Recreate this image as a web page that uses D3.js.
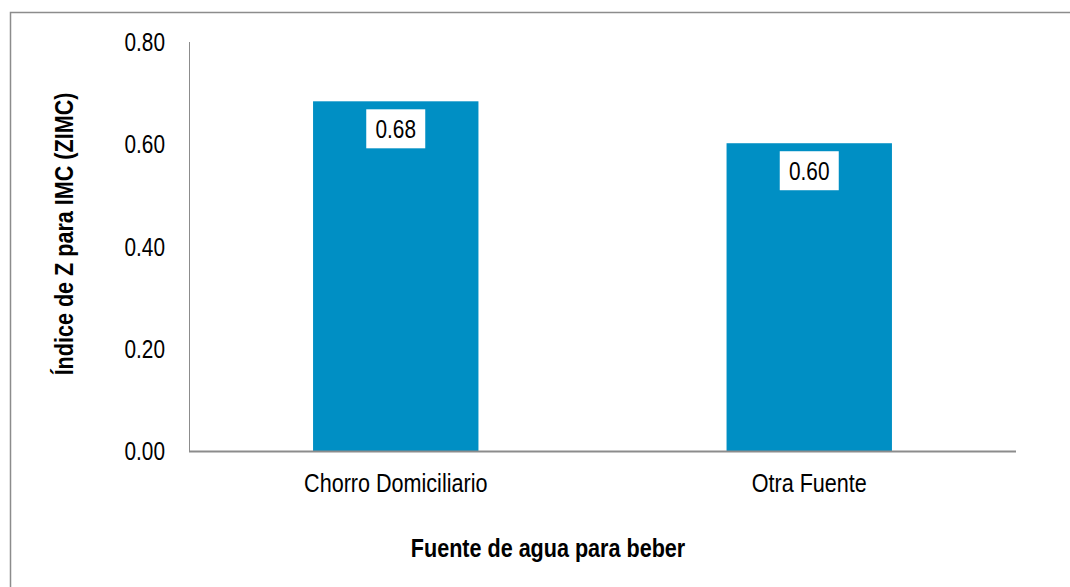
<!DOCTYPE html>
<html>
<head>
<meta charset="utf-8">
<script src="https://cdn.jsdelivr.net/npm/d3@7"></script>
<style>
  body { margin: 0; background: #fff; }
  svg { display: block; }
  text { font-family: "Liberation Sans", Arial, sans-serif; fill: #000; }
</style>
</head>
<body>
<svg width="1070" height="587"></svg>
<script>
// chart data
var categories = ["Chorro Domiciliario", "Otra Fuente"];
var values = [0.684, 0.602];
var valueLabels = ["0.68", "0.60"];
var yTicks = [0, 0.2, 0.4, 0.6, 0.8];

var svg = d3.select("svg");
var narrow = 0.8;   // squeeze text horizontally to look like Arial Narrow
var narrowL = 0.83; // a bit wider for the longer labels and titles

// outer chart frame (runs off the right and bottom of the picture)
svg.append("rect")
  .attr("x", 10.5)
  .attr("y", 12.5)
  .attr("width", 1100)
  .attr("height", 600)
  .attr("fill", "none")
  .attr("stroke", "#8c8c8c")
  .attr("stroke-width", 1.5);

var plotLeft = 189, plotRight = 1016, plotTop = 42, plotBottom = 451;

var x = d3.scaleBand()
  .domain(categories)
  .range([plotLeft, plotRight])
  .paddingInner(0.6)
  .paddingOuter(0.3);

var y = d3.scaleLinear()
  .domain([0, 0.8])
  .range([plotBottom, plotTop]);

// y axis line and tick labels
svg.append("line")
  .attr("x1", plotLeft + 0.5).attr("x2", plotLeft + 0.5)
  .attr("y1", plotTop).attr("y2", plotBottom)
  .attr("stroke", "#8c8c8c")
  .attr("stroke-width", 1);

svg.selectAll(".ytick")
  .data(yTicks)
  .enter().append("text")
  .attr("class", "ytick")
  .attr("transform", function(d) { return "translate(165," + y(d) + ") scale(" + narrow + ",1)"; })
  .attr("dy", "0.35em")
  .attr("text-anchor", "end")
  .attr("font-size", 26)
  .text(function(d) { return d3.format(".2f")(d); });

// bars
svg.selectAll(".bar")
  .data(values)
  .enter().append("rect")
  .attr("class", "bar")
  .attr("x", function(d, i) { return x(categories[i]); })
  .attr("y", function(d) { return y(d); })
  .attr("width", x.bandwidth())
  .attr("height", function(d) { return plotBottom - y(d); })
  .attr("fill", "#008fc4");

// x axis line
svg.append("line")
  .attr("x1", plotLeft).attr("x2", plotRight)
  .attr("y1", plotBottom + 0.5).attr("y2", plotBottom + 0.5)
  .attr("stroke", "#8c8c8c")
  .attr("stroke-width", 2);

// value labels in white boxes
var labels = svg.selectAll(".vlabel")
  .data(values)
  .enter().append("g")
  .attr("class", "vlabel")
  .attr("transform", function(d, i) {
    return "translate(" + (x(categories[i]) + x.bandwidth() / 2) + "," + (y(d) + 8) + ")";
  });

labels.append("rect")
  .attr("x", -29.5)
  .attr("y", 0)
  .attr("width", 59)
  .attr("height", 39)
  .attr("fill", "#fff");

labels.append("text")
  .attr("transform", "translate(0,20) scale(" + narrow + ",1)")
  .attr("dy", "0.35em")
  .attr("text-anchor", "middle")
  .attr("font-size", 26)
  .text(function(d, i) { return valueLabels[i]; });

// category labels
svg.selectAll(".xlabel")
  .data(categories)
  .enter().append("text")
  .attr("class", "xlabel")
  .attr("transform", function(d) {
    return "translate(" + (x(d) + x.bandwidth() / 2) + ",483) scale(" + narrowL + ",1)";
  })
  .attr("dy", "0.35em")
  .attr("text-anchor", "middle")
  .attr("font-size", 26)
  .text(function(d) { return d; });

// axis titles
svg.append("text")
  .attr("transform", "translate(548,548) scale(" + narrowL + ",1)")
  .attr("dy", "0.35em")
  .attr("text-anchor", "middle")
  .attr("font-size", 26)
  .attr("font-weight", "bold")
  .text("Fuente de agua para beber");

svg.append("text")
  .attr("transform", "translate(64,234) rotate(-90) scale(" + narrowL + ",1)")
  .attr("dy", "0.35em")
  .attr("text-anchor", "middle")
  .attr("font-size", 26)
  .attr("font-weight", "bold")
  .text("Índice de Z para IMC (ZIMC)");
</script>
</body>
</html>
